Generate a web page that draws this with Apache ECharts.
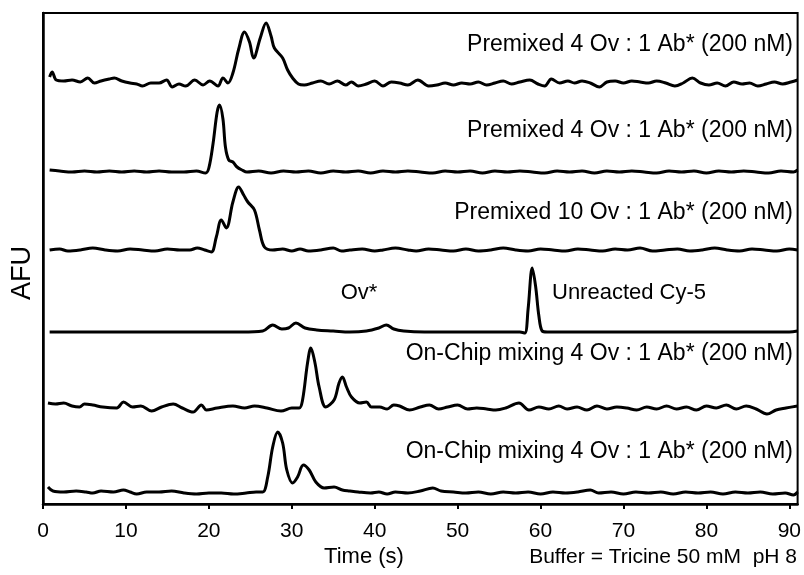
<!DOCTYPE html>
<html>
<head>
<meta charset="utf-8">
<script src="https://cdn.jsdelivr.net/npm/echarts@6/dist/echarts.min.js"></script>
<style>
  html, body { margin: 0; padding: 0; background: #fff; }
  #chart { width: 804px; height: 575px; }
</style>
</head>
<body>
<div id="chart"></div>
<script>
// Electropherograms, stacked vertically: [time (s), fluorescence (AFU, offset per trace)]
const premixedA = [
  [0.8,427],[1.1,432],[1.6,424],[2.5,423],[3.5,424],[4.5,422],[5.4,426],[6.2,421],[7.0,423],[8.0,425],
  [8.6,426],[9.5,423],[10.5,421],[11.3,420],[12.0,418],[13.0,421],[14.0,421],[14.9,424],[15.6,417],[16.4,420],
  [17.2,418],[18.3,424],[19.3,419],[20.1,423],[21.1,418],[21.7,426],[22.3,421],[22.9,431],[23.6,455],[24.3,472],
  [24.9,462],[25.4,446],[26.2,466],[26.9,481],[27.5,468],[27.9,456],[28.9,446],[29.5,434],[30.1,426],[30.8,420],
  [31.5,419],[32.5,421],[33.5,423],[34.5,420],[35.5,423],[36.5,419],[37.2,422],[38.0,418],[39.0,420],[40.0,423],
  [41.0,418],[42.0,422],[43.0,421],[44.0,419],[45.2,424],[46.5,418],[47.5,419],[48.5,421],[49.5,419],[50.5,421],
  [51.5,420],[52.5,422],[53.5,419],[54.5,421],[55.5,423],[56.5,420],[57.5,422],[58.7,424],[59.7,420],[60.5,418],
  [61.3,425],[62.3,421],[63.3,423],[64.1,421],[65.0,423],[66.0,421],[67.1,417],[68.0,422],[69.0,423],[70.0,421],
  [71.0,423],[72.0,422],[73.0,421],[74.0,423],[75.1,421],[76.2,418],[77.2,421],[78.3,426],[79.3,421],[80.3,419],
  [81.3,421],[82.3,418],[83.3,422],[84.3,420],[85.2,421],[86.2,418],[87.2,420],[88.2,422],[89.2,420],[90.2,422],[91.0,424]
];
const premixedB = [
  [0.8,334],[2.0,333],[3.5,332],[5.0,333],[6.5,332],[8.0,333],[9.5,332],[11.0,333],[12.5,332],[14.0,333],
  [15.5,332],[17.0,332],[18.5,333],[19.6,331],[20.0,336],[20.5,360],[21.0,392],[21.3,399],[21.7,385],[22.0,357],
  [22.4,344],[22.9,342],[23.4,337],[24.0,334],[24.6,332],[26.0,333],[27.5,331],[29.0,333],[30.5,332],[32.0,333],
  [33.5,331],[35.0,333],[36.5,332],[38.0,333],[39.5,331],[41.0,333],[42.5,332],[44.0,333],[45.5,332],[47.0,331],
  [48.5,333],[50.0,332],[51.5,333],[53.0,331],[54.5,333],[56.0,332],[57.5,333],[59.0,332],[60.5,331],[62.0,333],
  [63.5,332],[65.0,333],[66.5,331],[68.0,333],[69.5,332],[71.0,333],[72.5,332],[74.0,331],[75.5,333],[77.0,332],
  [78.5,333],[80.0,331],[81.5,333],[83.0,332],[84.5,333],[86.0,332],[87.5,331],[89.0,333],[90.5,332],[91.0,334]
];
const premixedC = [
  [0.8,254],[2.0,255],[3.0,253],[4.5,254],[6.0,256],[7.5,254],[9.0,253],[10.5,255],[12.0,254],[13.5,253],
  [15.0,255],[16.5,254],[17.7,254],[18.6,256],[19.5,254],[20.3,252],[20.9,267],[21.5,284],[22.1,276],[22.9,302],
  [23.6,317],[24.2,309],[24.7,302],[25.5,294],[26.1,274],[26.7,257],[27.7,254],[28.9,255],[30.0,253],[31.0,255],
  [32.0,253],[33.5,254],[35.0,256],[36.0,253],[37.0,254],[38.5,255],[40.0,253],[41.0,254],[42.5,256],[44.0,254],
  [45.0,253],[46.5,255],[48.0,254],[49.5,253],[51.0,255],[52.5,253],[54.0,254],[55.5,256],[57.0,254],[58.5,253],
  [60.0,255],[61.5,254],[63.0,253],[64.5,255],[66.0,254],[67.5,253],[69.0,255],[70.5,254],[72.0,256],[73.5,253],
  [75.0,254],[76.5,255],[78.0,253],[79.5,254],[81.0,256],[82.5,254],[84.0,253],[85.5,255],[87.0,254],[88.5,253],
  [90.0,255],[91.0,254]
];
const cy5Free = [
  [0.8,172],[3.0,172],[6.0,172],[9.0,172],[12.0,172],[15.0,172],[18.0,172],[21.0,172],[24.0,172],[26.5,173],
  [27.7,179],[28.8,175],[29.6,176],[30.5,181],[31.6,176],[33.0,174],[35.0,173],[37.0,172],[39.0,173],[40.5,176],
  [41.4,179],[42.3,175],[43.5,173],[46.0,172],[49.0,172],[52.0,172],[55.0,172],[57.5,172],[58.1,171],[58.5,195],
  [59.0,236],[59.4,218],[59.8,188],[60.2,173],[60.8,172],[63.0,172],[66.0,172],[69.0,172],[72.0,172],[75.0,172],
  [78.0,172],[81.0,172],[84.0,172],[87.0,172],[90.0,172],[91.0,173]
];
const onChipA = [
  [0.6,101],[1.5,100],[2.5,101],[3.5,98],[4.4,97],[5.0,100],[6.0,99],[7.2,97],[8.9,96],[9.7,102],
  [10.8,97],[11.8,98],[13.1,93],[14.3,97],[15.7,100],[16.8,96],[18.1,92],[19.1,99],[19.7,94],[21.0,96],
  [22.9,98],[24.3,96],[25.5,98],[27.0,96],[28.7,93],[30.0,96],[30.9,96],[31.3,104],[31.9,141],[32.3,156],
  [32.8,141],[33.3,117],[34.1,97],[35.1,104],[35.7,121],[36.1,127],[36.6,117],[37.2,107],[38.2,101],[39.0,102],
  [39.6,97],[40.6,97],[41.5,95],[42.3,99],[43.0,98],[44.2,94],[45.5,97],[46.6,99],[47.7,95],[48.8,97],
  [50.0,99],[51.2,95],[52.3,96],[53.5,95],[54.6,94],[55.8,96],[57.4,101],[58.6,94],[59.8,97],[61.0,95],
  [62.2,98],[63.2,95],[64.4,97],[65.6,94],[66.8,98],[68.0,95],[69.2,97],[70.4,96],[71.6,94],[72.8,97],
  [74.0,95],[75.2,98],[76.4,95],[77.6,97],[78.8,94],[80.0,98],[81.2,96],[82.4,99],[83.6,95],[84.8,98],
  [86.0,95],[87.3,90],[88.4,94],[89.6,96],[91.0,98]
];
const onChipB = [
  [0.6,17],[1.2,13],[2.5,12],[4.0,13],[5.2,12],[6.0,11],[7.0,13],[8.5,12],[9.7,14],[10.5,12],
  [11.3,10],[12.5,12],[14.0,12],[15.5,13],[17.0,11],[18.5,10],[20.0,11],[21.5,11],[23.0,10],[24.5,11],
  [25.7,12],[26.5,12],[27.1,27],[27.7,57],[28.3,72],[28.9,61],[29.4,34],[30.1,21],[30.7,27],[31.4,39],
  [32.1,34],[32.9,22],[33.9,16],[35.1,17],[36.1,14],[37.0,13],[38.0,12],[39.5,11],[40.5,12],[41.5,10],
  [42.5,12],[44.0,11],[45.5,13],[47.0,16],[48.0,13],[49.5,12],[51.0,11],[52.5,12],[54.0,10],[55.5,12],
  [57.0,11],[58.5,12],[60.0,10],[61.5,12],[63.0,11],[64.5,12],[66.0,14],[67.0,11],[68.5,12],[70.0,10],
  [71.5,12],[73.0,11],[74.5,12],[76.0,10],[77.5,12],[79.0,11],[80.5,12],[82.0,10],[83.5,12],[85.0,11],
  [86.5,12],[88.0,10],[89.5,11],[90.5,9],[91.0,12]
];

const timeTicks = { min: 0, max: 91, interval: 10 };
const traceLabels = [
  'Premixed 4 Ov : 1 Ab* (200 nM)',
  'Premixed 4 Ov : 1 Ab* (200 nM)',
  'Premixed 10 Ov : 1 Ab* (200 nM)',
  'On-Chip mixing 4 Ov : 1 Ab* (200 nM)',
  'On-Chip mixing 4 Ov : 1 Ab* (200 nM)'
];
const peakLabels = ['Ov*', 'Unreacted Cy-5'];
const axisTexts = { y: 'AFU', x: 'Time (s)', note: 'Buffer = Tricine 50 mM  pH 8' };

const FONT = '"Liberation Sans", Arial, Helvetica, sans-serif';
const traces = [premixedA, premixedB, premixedC, cy5Free, onChipA, onChipB];

const chart = echarts.init(document.getElementById('chart'), null, { renderer: 'canvas' });

function txt(text, x, y, align, size, extra) {
  return Object.assign({
    type: 'text', x: x, y: y, silent: true,
    style: { text: text, fill: '#000', font: size + 'px ' + FONT, textAlign: align, textVerticalAlign: 'middle' }
  }, extra || {});
}

chart.setOption({
  animation: false,
  backgroundColor: '#fff',
  grid: { left: 43, right: 5, top: 13, bottom: 71, show: true, borderColor: '#000', borderWidth: 2, backgroundColor: 'transparent' },
  xAxis: {
    type: 'value', min: timeTicks.min, max: timeTicks.max, interval: timeTicks.interval,
    axisLine: { lineStyle: { color: '#000', width: 2.5 } },
    axisTick: { inside: false, length: 5, lineStyle: { color: '#000', width: 2 } },
    axisLabel: { color: '#000', fontSize: 21, fontFamily: FONT, margin: 17, showMaxLabel: false },
    splitLine: { show: false }
  },
  yAxis: {
    type: 'value', min: 0, max: 491,
    axisLine: { show: true, lineStyle: { color: '#000', width: 2.5 } },
    axisTick: { show: false }, axisLabel: { show: false }, splitLine: { show: false }
  },
  series: traces.map(d => ({
    type: 'line', data: d, showSymbol: false, smooth: 0.35,
    lineStyle: { color: '#000', width: 3 }
  })),
  graphic: [
    txt(traceLabels[0], 793, 45, 'right', 23),
    txt(traceLabels[1], 793, 131, 'right', 23),
    txt(traceLabels[2], 793, 213, 'right', 23),
    txt(peakLabels[0], 359, 293, 'center', 22),
    txt(peakLabels[1], 552, 293, 'left', 22),
    txt(traceLabels[3], 793, 354, 'right', 23),
    txt(traceLabels[4], 793, 452, 'right', 23),
    txt(axisTexts.x, 364, 557, 'center', 22),
    txt(axisTexts.note, 797, 557, 'right', 21),
    txt(axisTexts.y, 23, 273, 'center', 27, { rotation: Math.PI / 2 })
  ]
});
</script>
</body>
</html>
